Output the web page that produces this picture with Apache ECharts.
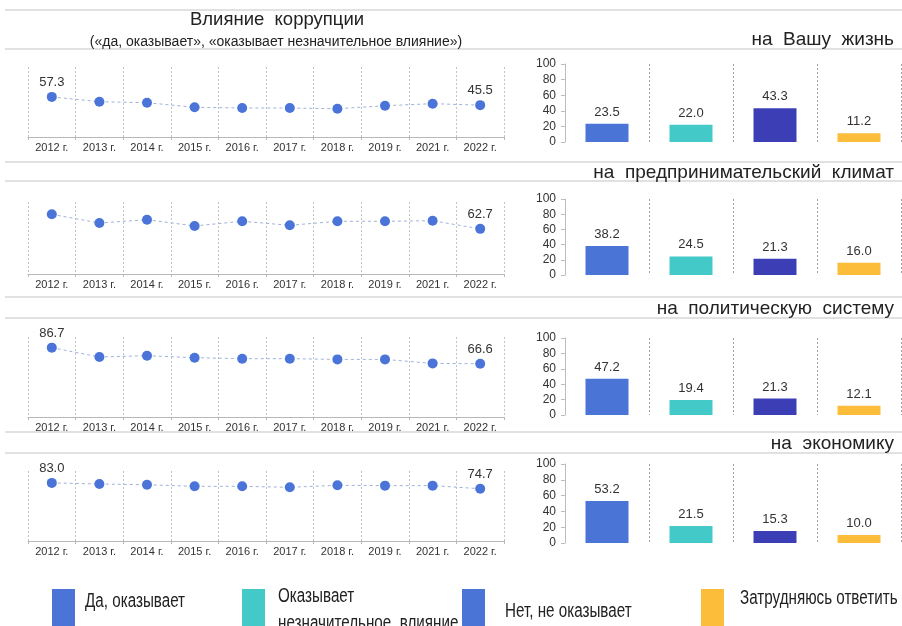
<!DOCTYPE html>
<html><head><meta charset="utf-8">
<script src="https://cdn.jsdelivr.net/npm/echarts@6/dist/echarts.min.js"></script>
<style>html,body{margin:0;padding:0;background:#fff}#c{width:902px;height:626px}</style>
</head><body><div id="c"></div>
<script>
// ---- data ----
const years = ['2012 г.', '2013 г.', '2014 г.', '2015 г.', '2016 г.', '2017 г.', '2018 г.', '2019 г.', '2021 г.', '2022 г.'];
const answers = ['Да, оказывает', 'Оказывает\nнезначительное  влияние', 'Нет, не оказывает', 'Затрудняюсь ответить'];
const mainTitle = 'Влияние  коррупции';
const subTitle = '(«да, оказывает», «оказывает незначительное влияние»)';
const panelTitles = ['на  Вашу  жизнь', 'на  предпринимательский  климат', 'на  политическую  систему', 'на  экономику'];

// trend of "yes" + "slight influence" (%)
const trendLife     = [57.3, 50.4, 49.0, 42.4, 41.4, 41.4, 40.4, 44.7, 47.6, 45.5];
const trendBusiness = [82.9, 70.8, 75.4, 66.7, 73.2, 67.6, 73.2, 73.2, 74.0, 62.7];
const trendPolitics = [86.7, 75.0, 76.6, 74.1, 72.9, 72.9, 72.0, 72.0, 67.0, 66.6];
const trendEconomy  = [83.0, 81.4, 80.4, 78.1, 78.1, 76.7, 79.6, 79.1, 79.1, 74.7];
// which points carry a value label
const labelledLife     = [0, 9];
const labelledBusiness = [9];
const labelledPolitics = [0, 9];
const labelledEconomy  = [0, 9];

// 2022 answer distribution (%)
const shareLife     = [23.5, 22.0, 43.3, 11.2];
const shareBusiness = [38.2, 24.5, 21.3, 16.0];
const sharePolitics = [47.2, 19.4, 21.3, 12.1];
const shareEconomy  = [53.2, 21.5, 15.3, 10.0];

const barTicks = [0, 20, 40, 60, 80, 100];

// ---- styling / layout ----
const FONT = '"Liberation Sans", Arial, sans-serif';
const barColors = ['#4a75d6', '#43c9c8', '#3c3eb6', '#fbbd3a'];
const legendColors = ['#4a75d6', '#43c9c8', '#4a75d6', '#fbbd3a'];
const dotColor = '#4a74d8';

const trends = [trendLife, trendBusiness, trendPolitics, trendEconomy];
const labelled = [labelledLife, labelledBusiness, labelledPolitics, labelledEconomy];
const shares = [shareLife, shareBusiness, sharePolitics, shareEconomy];

const lineGrids = [
  {left: 28, width: 476, top: 67, height: 70},
  {left: 28, width: 476, top: 202, height: 72},
  {left: 28, width: 476, top: 337, height: 80},
  {left: 28, width: 476, top: 471, height: 70}
];
const barGrids = [
  {left: 565, width: 336, top: 64, height: 78},
  {left: 565, width: 336, top: 199, height: 76},
  {left: 565, width: 336, top: 338, height: 77},
  {left: 565, width: 336, top: 464, height: 79}
];
const titleY = [40, 173, 309, 444];
const sepY = [10, 49, 162, 181, 297, 318, 432, 453];

const grid = [], xAxis = [], yAxis = [], series = [];
lineGrids.forEach((g, i) => {
  grid.push(Object.assign({containLabel: false}, g));
  xAxis.push({
    type: 'category', gridIndex: i, data: years, boundaryGap: true,
    axisLine: {lineStyle: {color: '#b8b8b8'}},
    axisTick: {show: true, length: 3, interval: 0, lineStyle: {color: '#b8b8b8'}},
    axisLabel: {fontSize: 11, color: '#333', margin: 5, interval: 0, fontFamily: FONT},
    splitLine: {show: true, interval: 0, lineStyle: {type: [2, 2], color: '#c2c2c2', width: 1}}
  });
  yAxis.push({type: 'value', gridIndex: i, min: 0, max: 100, show: false});
  series.push({
    type: 'line', xAxisIndex: i, yAxisIndex: i,
    data: trends[i].map((v, k) => ({
      value: v,
      label: {show: labelled[i].includes(k)}
    })),
    symbol: 'circle', symbolSize: 10,
    itemStyle: {color: dotColor},
    lineStyle: {type: [3, 3], color: '#9fb2d8', width: 1},
    label: {position: 'top', distance: 3, fontSize: 13, color: '#333', fontFamily: FONT,
            formatter: p => p.value.toFixed(1)},
    emphasis: {disabled: true},
    silent: true, animation: false
  });
});
barGrids.forEach((g, i) => {
  const gi = 4 + i;
  grid.push(Object.assign({containLabel: false}, g));
  xAxis.push({
    type: 'category', gridIndex: gi, data: answers,
    axisLine: {show: false}, axisTick: {show: false}, axisLabel: {show: false, interval: 0},
    splitLine: {show: true, interval: 0, showMinLine: false, lineStyle: {type: [2, 2], color: '#a0a0a0', width: 1}}
  });
  yAxis.push({
    type: 'value', gridIndex: gi,
    min: barTicks[0], max: barTicks[barTicks.length - 1], interval: barTicks[1] - barTicks[0],
    axisLine: {show: true, lineStyle: {color: '#bdbdbd'}},
    axisTick: {show: true, length: 4, lineStyle: {color: '#bdbdbd'}},
    axisLabel: {fontSize: 12, color: '#333', margin: 9, fontFamily: FONT},
    splitLine: {show: false}
  });
  series.push({
    type: 'bar', xAxisIndex: gi, yAxisIndex: gi, barWidth: 43,
    data: shares[i].map((v, k) => ({value: v, itemStyle: {color: barColors[k]}})),
    label: {show: true, position: 'top', distance: 5, fontSize: 13, color: '#333', fontFamily: FONT,
            formatter: p => p.value.toFixed(1)},
    emphasis: {disabled: true}, silent: true, animation: false
  });
});

const graphic = [];
sepY.forEach(y => graphic.push({
  type: 'line', shape: {x1: 5, y1: y, x2: 902, y2: y},
  style: {stroke: '#c4c4c4', lineWidth: 1.2}, silent: true
}));
graphic.push({type: 'text', x: 277, y: 20, style: {text: mainTitle, align: 'center', verticalAlign: 'middle', font: '18.5px ' + FONT, fill: '#222'}});
graphic.push({type: 'text', x: 276, y: 42, style: {text: subTitle, align: 'center', verticalAlign: 'middle', font: '14px ' + FONT, fill: '#222'}});
panelTitles.forEach((t, i) => graphic.push({
  type: 'text', x: 894, y: titleY[i],
  style: {text: t, align: 'right', verticalAlign: 'middle', font: '19px ' + FONT, fill: '#222'}
}));
// legend
const legendRectX = [52, 242, 462, 701];
const legendTextX = [85, 278, 505, 740];
const legendTextY = [601, 596, 611, 598];
const legendLH = 27;
answers.forEach((a, i) => {
  graphic.push({type: 'rect', shape: {x: legendRectX[i], y: 589, width: 23, height: 40}, style: {fill: legendColors[i]}});
  graphic.push({type: 'text', x: legendTextX[i], y: legendTextY[i] - legendLH / 2, scaleX: 0.76,
    style: {text: a, align: 'left', verticalAlign: 'top', font: '20px ' + FONT, fill: '#222', lineHeight: legendLH}});
});

const chart = echarts.init(document.getElementById('c'), null, {renderer: 'canvas'});
chart.setOption({animation: false, backgroundColor: '#fff', grid, xAxis, yAxis, series, graphic});
</script>
</body></html>
